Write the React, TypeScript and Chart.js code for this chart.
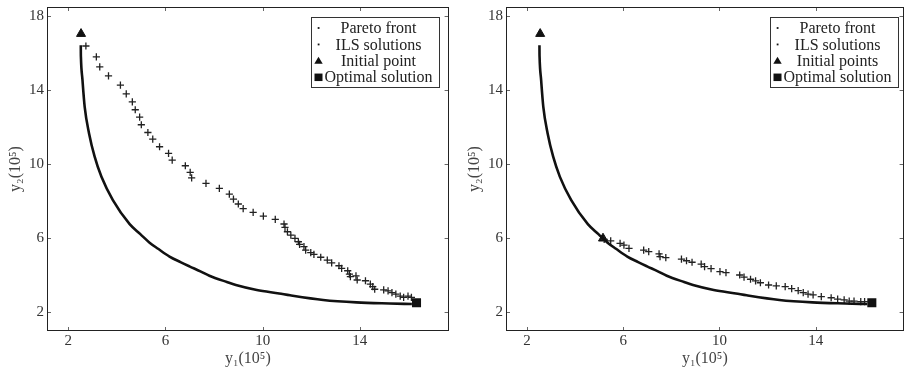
import React, { useEffect, useRef } from 'react';
import { Chart, registerables } from 'chart.js';

Chart.register(...registerables);

// ---- data (values in 10^5) ----
const xTicks = [2, 6, 10, 14];
const yTicks = [2, 6, 10, 14, 18];

const paretoX = [2.52, 2.522, 2.525, 2.59, 2.68, 2.86, 3.09, 3.37, 3.84, 4.53, 4.98, 5.35, 5.7, 6.17, 6.62, 6.99, 7.44, 7.81, 8.53, 8.9, 9.76, 10.68, 11.13, 12.49, 13.86, 15.22, 16.14];
const paretoY = [16.43, 16.0, 15.8, 14.54, 13.1, 11.66, 10.4, 9.31, 8.05, 6.75, 6.2, 5.75, 5.42, 5.0, 4.7, 4.47, 4.2, 3.96, 3.62, 3.46, 3.19, 3.0, 2.9, 2.65, 2.52, 2.46, 2.43];

const ilsLeftX = [2.73, 3.16, 3.3, 3.66, 4.15, 4.39, 4.64, 4.76, 4.94, 5.01, 5.28, 5.48, 5.76, 6.13, 6.28, 6.82, 7.02, 7.08, 7.67, 8.22, 8.63, 8.8, 9.0, 9.2, 9.61, 10.03, 10.52, 10.88, 10.92, 11.02, 11.16, 11.33, 11.47, 11.52, 11.7, 11.77, 11.98, 12.11, 12.39, 12.66, 12.84, 13.14, 13.25, 13.5, 13.57, 13.61, 13.84, 13.89, 14.23, 14.43, 14.53, 14.61, 14.98, 15.16, 15.32, 15.48, 15.66, 15.8, 15.98, 16.12];
const ilsLeftY = [16.39, 15.8, 15.26, 14.77, 14.27, 13.8, 13.37, 12.94, 12.54, 12.13, 11.71, 11.35, 10.94, 10.58, 10.22, 9.91, 9.55, 9.26, 8.96, 8.69, 8.38, 8.11, 7.84, 7.59, 7.39, 7.19, 7.01, 6.76, 6.58, 6.34, 6.16, 5.98, 5.8, 5.66, 5.53, 5.35, 5.21, 5.12, 4.96, 4.81, 4.66, 4.5, 4.36, 4.23, 4.05, 3.91, 3.95, 3.73, 3.69, 3.51, 3.37, 3.23, 3.19, 3.14, 3.05, 2.97, 2.86, 2.79, 2.86, 2.79];

const ilsRightX = [5.21, 5.48, 5.87, 6.03, 6.24, 6.85, 7.06, 7.49, 7.53, 7.77, 8.42, 8.63, 8.86, 9.24, 9.38, 9.65, 10.02, 10.27, 10.84, 11.02, 11.29, 11.5, 11.7, 12.04, 12.36, 12.73, 13.0, 13.27, 13.48, 13.68, 13.89, 14.23, 14.64, 14.91, 15.18, 15.39, 15.59, 15.87, 16.03];
const ilsRightY = [5.93, 5.85, 5.71, 5.62, 5.44, 5.35, 5.26, 5.14, 4.99, 4.94, 4.86, 4.77, 4.69, 4.59, 4.45, 4.34, 4.18, 4.13, 4.0, 3.88, 3.77, 3.68, 3.58, 3.46, 3.41, 3.37, 3.26, 3.15, 3.05, 2.97, 2.92, 2.83, 2.77, 2.7, 2.65, 2.59, 2.59, 2.56, 2.56];

const initialLeftX = [2.53];
const initialLeftY = [17.05];
const initialRightX = [2.55, 5.16];
const initialRightY = [17.05, 5.98];
const optimalX = [16.33];
const optimalY = [2.5];

const legendLeft = ['Pareto front', 'ILS solutions', 'Initial point', 'Optimal solution'];
const legendRight = ['Pareto front', 'ILS solutions', 'Initial points', 'Optimal solution'];

const xTitle = 'y\u2081(10\u2075)';
const yTitle = 'y\u2082(10\u2075)';

const FONT = '"Liberation Serif", "DejaVu Serif", serif';

const zip = (xs: number[], ys: number[]) => xs.map((x, i) => ({ x, y: ys[i] }));

const framePlugin = {
  id: 'frame',
  afterDraw(chart: any) {
    const { ctx, chartArea, scales } = chart;
    const { left, right, top, bottom } = chartArea;
    const xs = scales.x;
    const ys = scales.y;
    ctx.save();
    ctx.strokeStyle = '#666';
    ctx.lineWidth = 1;
    ctx.beginPath();
    for (const v of xTicks) {
      const px = Math.round(xs.getPixelForValue(v)) + 0.5;
      ctx.moveTo(px, bottom);
      ctx.lineTo(px, bottom - 4);
      ctx.moveTo(px, top);
      ctx.lineTo(px, top + 4);
    }
    for (const v of yTicks) {
      const py = Math.round(ys.getPixelForValue(v)) + 0.5;
      ctx.moveTo(left, py);
      ctx.lineTo(left + 4, py);
      ctx.moveTo(right, py);
      ctx.lineTo(right - 4, py);
    }
    ctx.stroke();
    ctx.strokeStyle = '#222';
    ctx.strokeRect(Math.round(left) + 0.5, Math.round(top) + 0.5, Math.round(right - left) - 1, Math.round(bottom - top) - 1);

    // legend
    const labels: string[] = chart.options.plugins.boxLegend.labels;
    const bx = Math.round(left + 263.7) + 0.5;
    const by = Math.round(top + 10.3) + 0.5;
    const bw = 128;
    const bh = 70;
    ctx.fillStyle = '#fff';
    ctx.fillRect(bx, by, bw, bh);
    ctx.strokeStyle = '#333';
    ctx.strokeRect(bx, by, bw, bh);
    ctx.font = '16px ' + FONT;
    ctx.textAlign = 'center';
    ctx.textBaseline = 'middle';
    const mx = bx + 7;
    const tx = bx + bw / 2 + 3;
    labels.forEach((lab, i) => {
      const cy = by + 10.4 + i * 16.45;
      ctx.fillStyle = '#111';
      if (i < 2) {
        ctx.fillRect(mx - 0.8, cy - 0.8, 1.8, 1.8);
      } else if (i === 2) {
        ctx.beginPath();
        ctx.moveTo(mx, cy - 4);
        ctx.lineTo(mx + 4.2, cy + 3);
        ctx.lineTo(mx - 4.2, cy + 3);
        ctx.closePath();
        ctx.fill();
      } else {
        ctx.fillRect(mx - 4, cy - 3.7, 8, 7.5);
      }
      ctx.fillStyle = '#222';
      ctx.fillText(lab, tx, cy + 1);
    });
    ctx.restore();
  },
};

function makeConfig(ilsX: number[], ilsY: number[], initX: number[], initY: number[], labels: string[], rightPad: number): any {
  const tickFont = { family: FONT, size: 15 };
  const titleFont = { family: FONT, size: 16 };
  return {
    type: 'scatter',
    data: {
      datasets: [
        {
          label: 'Pareto front',
          data: zip(paretoX, paretoY),
          showLine: true,
          borderColor: '#111',
          borderWidth: 2.6,
          pointRadius: 0,
          cubicInterpolationMode: 'monotone',
        },
        {
          label: 'ILS solutions',
          data: zip(ilsX, ilsY),
          pointStyle: 'cross',
          pointRadius: 3.6,
          borderColor: '#222',
          borderWidth: 1.3,
        },
        {
          label: 'Initial point',
          data: zip(initX, initY),
          pointStyle: 'triangle',
          pointRadius: 5.2,
          backgroundColor: '#111',
          borderColor: '#111',
          borderWidth: 1,
        },
        {
          label: 'Optimal solution',
          data: zip(optimalX, optimalY),
          pointStyle: 'rect',
          pointRadius: 6.4,
          backgroundColor: '#111',
          borderColor: '#111',
          borderWidth: 0,
        },
      ],
    },
    options: {
      animation: false,
      responsive: false,
      events: [],
      layout: { padding: { left: 0, right: rightPad, top: 7, bottom: 0 } },
      plugins: {
        legend: { display: false },
        tooltip: { enabled: false },
        boxLegend: { labels },
      },
      scales: {
        x: {
          type: 'linear',
          min: 1.13,
          max: 17.65,
          afterBuildTicks: (s: any) => {
            s.ticks = xTicks.map((v) => ({ value: v }));
          },
          afterFit: (s: any) => {
            s.height = 40;
            s.paddingLeft = 0;
            s.paddingRight = 0;
          },
          grid: { display: false, drawTicks: false },
          border: { display: false },
          ticks: { padding: 1, color: '#333', font: tickFont, maxRotation: 0 },
          title: { display: true, text: xTitle, color: '#444', font: titleFont, padding: { top: 0, bottom: 3 } },
        },
        y: {
          type: 'linear',
          min: 0.97,
          max: 18.5,
          afterBuildTicks: (s: any) => {
            s.ticks = yTicks.map((v) => ({ value: v }));
          },
          afterFit: (s: any) => {
            s.width = 47;
            s.paddingTop = 0;
            s.paddingBottom = 0;
          },
          grid: { display: false, drawTicks: false },
          border: { display: false },
          ticks: { padding: 3, color: '#333', font: tickFont },
          title: { display: true, text: yTitle, color: '#444', font: titleFont, padding: { top: 6, bottom: 0 } },
        },
      },
    },
    plugins: [framePlugin],
  };
}

function Panel(props: { left: number; width: number; rightPad: number; ilsX: number[]; ilsY: number[]; initX: number[]; initY: number[]; labels: string[] }) {
  const ref = useRef<HTMLCanvasElement | null>(null);
  useEffect(() => {
    if (!ref.current) return;
    const cfg = makeConfig(props.ilsX, props.ilsY, props.initX, props.initY, props.labels, props.rightPad);
    const chart = new Chart(ref.current, cfg);
    return () => chart.destroy();
  }, []);
  return (
    <canvas
      ref={ref}
      width={props.width}
      height={371}
      style={{ position: 'absolute', left: props.left, top: 0, width: props.width, height: 371 }}
    />
  );
}

export default function App() {
  return (
    <div style={{ position: 'fixed', left: 0, top: 0, width: 909, height: 371, background: '#fff', overflow: 'hidden' }}>
      <Panel left={0} width={455} rightPad={4} ilsX={ilsLeftX} ilsY={ilsLeftY} initX={initialLeftX} initY={initialLeftY} labels={legendLeft} />
      <Panel left={459} width={451} rightPad={0} ilsX={ilsRightX} ilsY={ilsRightY} initX={initialRightX} initY={initialRightY} labels={legendRight} />
    </div>
  );
}
